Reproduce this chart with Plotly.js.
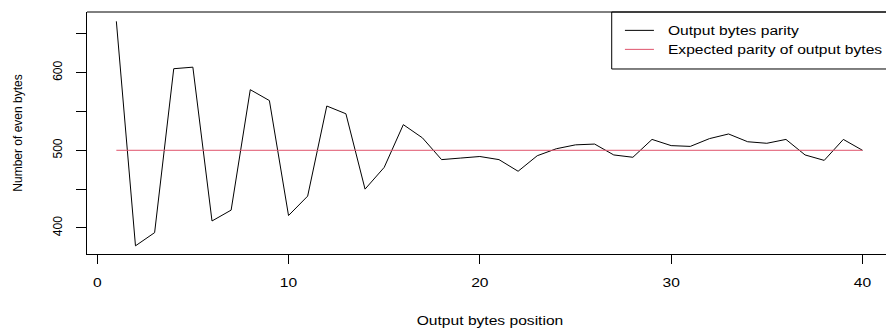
<!DOCTYPE html>
<html>
<head>
<meta charset="utf-8">
<script src="https://cdn.plot.ly/plotly-3.0.1.min.js"></script>
<style>html,body{margin:0;padding:0;background:#fff;} #chart{width:886px;height:331px;}</style>
</head>
<body>
<div id="chart"></div>
<script>
// Data
const positions = [1,2,3,4,5,6,7,8,9,10,11,12,13,14,15,16,17,18,19,20,21,22,23,24,25,26,27,28,29,30,31,32,33,34,35,36,37,38,39,40];
const evenBytes = [666,377,394,605,607,409,423,578,564,416,441,557,547,450,478,533,516,488,490,492,488,473,493,502,507,508,494,491,514,506,505,515,521,511,509,514,494,487,514,500];
const expectedX = [1, 40];
const expectedY = [500, 500];
const seriesNames = ["Output bytes parity", "Expected parity of output bytes"];
const xTickVals = [0, 10, 20, 30, 40];
const xTickText = ["0", "10", "20", "30", "40"];
const yTickVals = [400, 450, 500, 550, 600, 650];
const yTickText = ["400", "", "500", "", "600", ""];
const xTitle = "Output bytes position";
const yTitle = "Number of even bytes";

// the reference image is stretched horizontally; widen horizontal text to match
const H_STRETCH = 1.3;

const font = {family: "Liberation Sans, Arial, Helvetica, sans-serif", size: 12, color: "#000"};

const traces = [
  {x: positions, y: evenBytes, type: "scatter", mode: "lines", name: seriesNames[0],
   line: {color: "#000000", width: 1}},
  {x: expectedX, y: expectedY, type: "scatter", mode: "lines", name: seriesNames[1],
   line: {color: "#DF536B", width: 1}}
];

const layout = {
  width: 886, height: 331,
  margin: {l: 87, r: 0, t: 12, b: 77, pad: 0},
  paper_bgcolor: "#fff", plot_bgcolor: "#fff",
  font: font,
  showlegend: true,
  legend: {x: 0.667, y: 0.984, xanchor: "left", yanchor: "top", borderwidth: 0,
           bgcolor: "rgba(0,0,0,0)", font: font, tracegroupgap: 0, itemwidth: 38},
  xaxis: {range: [-0.534, 41.23], tickvals: xTickVals, ticktext: xTickText, ticks: "outside", ticklen: 9,
          tickcolor: "#000", tickwidth: 1, showline: true, linecolor: "#000", linewidth: 1,
          showgrid: false, zeroline: false, tickfont: font, ticklabelstandoff: 9,
          title: {text: xTitle, font: font, standoff: 27}, automargin: false},
  yaxis: {range: [366.5, 678], tickvals: yTickVals, ticktext: yTickText, ticks: "outside", ticklen: 10,
          tickcolor: "#000", tickwidth: 1, showline: true, linecolor: "#000", linewidth: 1,
          showgrid: false, zeroline: false, tickfont: font, tickangle: -90, ticklabelstandoff: 9,
          title: {text: yTitle, font: font, standoff: 26}, automargin: false},
  shapes: [
    {type: "line", xref: "paper", yref: "paper", x0: 0, x1: 1, y0: 1, y1: 1, line: {color: "#000", width: 1}},
    {type: "rect", xref: "paper", yref: "paper", x0: 0.6567, x1: 1.05, y0: 0.7645, y1: 1,
     line: {color: "#000", width: 1}, fillcolor: "rgba(0,0,0,0)"}
  ]
};

function stretch(el) {
  const w = el.getComputedTextLength();
  if (w > 0) {
    el.setAttribute("textLength", (w * H_STRETCH).toFixed(2));
    el.setAttribute("lengthAdjust", "spacingAndGlyphs");
  }
}

Plotly.newPlot("chart", traces, layout, {displayModeBar: false, staticPlot: true}).then(function (gd) {
  gd.querySelectorAll(".xtick text, .xtitle, .legendtext").forEach(stretch);
  gd.querySelectorAll("clipPath[id^='legend'] rect").forEach(function (r) { r.setAttribute("width", 400); });
  gd.querySelectorAll(".legend .bg").forEach(function (r) { r.setAttribute("width", 400); });
  // legend line samples: same length as the reference's
  gd.querySelectorAll(".legend .legendlines path").forEach(function (p) { p.setAttribute("d", "M5,0h29"); });
  // centre the x title on the reference plot region (which runs past the right edge)
  gd.querySelectorAll(".xtitle").forEach(function (t) {
    const x = parseFloat(t.getAttribute("x"));
    if (!isNaN(x)) t.setAttribute("x", (x + 3.5).toFixed(1));
  });
});
</script>
</body>
</html>
